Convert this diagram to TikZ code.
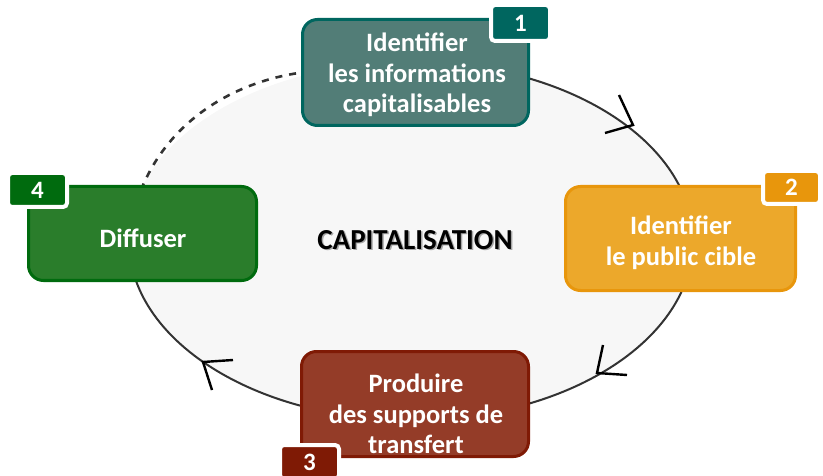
\documentclass[tikz,border=0pt]{standalone}
\usepackage{fontspec}
\setmainfont{Carlito}
\definecolor{ringfill}{HTML}{F7F7F7}
\definecolor{ringline}{HTML}{333333}
\definecolor{fillA}{HTML}{527D77}
\definecolor{edgeA}{HTML}{00665F}
\definecolor{fillB}{HTML}{ECA82B}
\definecolor{edgeB}{HTML}{E8960C}
\definecolor{fillC}{HTML}{943C28}
\definecolor{edgeC}{HTML}{7F1A05}
\definecolor{fillD}{HTML}{2A7D2B}
\definecolor{edgeD}{HTML}{006B0E}
\tikzset{
  stepbox/.style={rectangle, rounded corners=15pt, line width=3pt, inner sep=0pt},
  badgebox/.style={rectangle, rounded corners=4pt, draw=white, line width=4pt, inner sep=0pt,
    text=white, font=\bfseries\fontsize{25}{28}\selectfont},
  steptext/.style={align=center, inner sep=0pt, text=white, font=\bfseries\fontsize{26.5}{30.5}\selectfont},
  titletext/.style={inner sep=0pt, font=\bfseries\fontsize{29}{32}\selectfont},
  ring/.style={draw=ringline, line width=2pt},
  ringdash/.style={draw=ringline, line width=2.6pt, dash pattern=on 7pt off 7pt},
  vtip/.style={draw=black, line width=2.4pt},
}
\begin{document}
\begin{tikzpicture}[x=1pt,y=-1pt]
\useasboundingbox (0,0) rectangle (823,476);
\coordinate (c) at (411,241);
% ring
\fill[ringfill] (c) ellipse[x radius=282, y radius=179];
\draw[ring] (c) ++(-90:282 and 179) arc[start angle=-90, end angle=180, x radius=282, y radius=179];
\coordinate (ds) at (141,190);
\coordinate (de) at (306,72);
\draw[ringdash] (ds) .. controls (170,118) and (238,80) .. (de);
% open arrowheads on the ring
\draw[vtip] (619,95) -- (633,125) -- (605,133);
\draw[vtip] (603,345) -- (597,373) -- (627,375);
\draw[vtip] (233,360) -- (203,362) -- (212,390);
% step boxes
\node[stepbox, fill=fillA, draw=edgeA, minimum width=226pt, minimum height=106pt] (b1) at (415.5,72.5) {};
\node[stepbox, fill=fillB, draw=edgeB, minimum width=230pt, minimum height=104pt] (b2) at (680.5,238.5) {};
\node[stepbox, fill=fillC, draw=edgeC, minimum width=227pt, minimum height=105pt] (b3) at (415,404) {};
\node[stepbox, fill=fillD, draw=edgeD, minimum width=228pt, minimum height=94pt] (b4) at (142.5,233.5) {};
\node[steptext] (t1) at (417,75) {Identifier\\les informations\\capitalisables};
\node[steptext] (t2) at (681,243) {Identifier\\le public cible};
\node[steptext] (t3) at (416,414) {Produire\\des supports de\\transfert};
\node[steptext] (t4) at (143,238) {Diffuser};
% badges
\node[badgebox, fill=edgeA, minimum width=59pt, minimum height=36pt] (n1) at (520.5,23) {1};
\node[badgebox, fill=edgeB, minimum width=57pt, minimum height=33pt] (n2) at (791.5,187.5) {2};
\node[badgebox, fill=edgeC, minimum width=59pt, minimum height=34pt] (n3) at (309.5,462) {3};
\node[badgebox, fill=edgeD, minimum width=59pt, minimum height=34pt] (n4) at (37.5,190) {4};
% centre title
\node[titletext, text=black!35] (tshadow) at (416.5,241.5) {CAPITALISATION};
\node[titletext, text=black] (title) at (415,240) {CAPITALISATION};
\end{tikzpicture}
\end{document}
